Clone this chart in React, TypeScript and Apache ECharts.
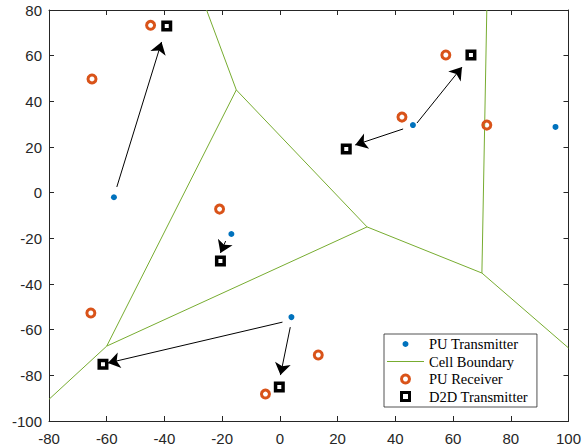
import React, { useEffect, useRef } from "react";
import * as echarts from "echarts";

// ---- data ----
const puTransmitters: [number, number][] = [
  [-57.5, -2],
  [-16.8, -18.1],
  [4.0, -54.5],
  [46.1, 29.6],
  [95.5, 28.8],
];

const puReceivers: [number, number][] = [
  [-44.8, 73.3],
  [-65.1, 49.8],
  [-20.9, -7.2],
  [-65.5, -52.7],
  [-5.0, -88.2],
  [13.3, -71.1],
  [42.3, 33.1],
  [57.5, 60.3],
  [71.7, 29.6],
];

const d2dTransmitters: [number, number][] = [
  [-39.2, 73.0],
  [-20.6, -29.9],
  [-61.3, -75.1],
  [-0.2, -85.1],
  [23.0, 19.1],
  [66.2, 60.3],
];

// arrows: start -> end
const arrowStarts: [number, number][] = [
  [-56.5, 2.5],
  [-18.8, -21.2],
  [0.9, -56.7],
  [3.6, -58.9],
  [42.7, 27.9],
  [47.5, 30.5],
];
const arrowEnds: [number, number][] = [
  [-41.0, 66.0],
  [-20.6, -26.4],
  [-59.6, -74.6],
  [0.2, -79.9],
  [26.1, 20.9],
  [63.1, 55.0],
];

// Voronoi cell boundary segments
const boundaryStarts: [number, number][] = [
  [-25.4, 80],
  [-15.1, 45],
  [-15.1, 45],
  [-60, -67.2],
  [-60, -67.2],
  [30.2, -15],
  [70, -35.2],
  [70, -35.2],
];
const boundaryEnds: [number, number][] = [
  [-15.1, 45],
  [-60, -67.2],
  [30.2, -15],
  [30.2, -15],
  [-80, -90.5],
  [70, -35.2],
  [71.7, 80],
  [100, -68],
];

const xTicks = { min: -80, max: 100, interval: 20 };
const yTicks = { min: -100, max: 80, interval: 20 };

const AXIS_COLOR = "#262626";
const BLUE = "#0072BD";
const ORANGE = "#D95319";
const GREEN = "#77AC30";

function makeAxis(kind: "x" | "y", position: string, showLabel: boolean) {
  const t = kind === "x" ? xTicks : yTicks;
  return {
    type: "value",
    position,
    min: t.min,
    max: t.max,
    interval: t.interval,
    axisLine: { show: true, onZero: false, lineStyle: { color: AXIS_COLOR, width: 1 } },
    axisTick: { show: true, inside: true, length: 5, lineStyle: { color: AXIS_COLOR, width: 1 } },
    axisLabel: {
      show: showLabel,
      color: AXIS_COLOR,
      fontSize: 15,
      fontFamily: "Liberation Sans",
      margin: kind === "x" ? 10 : 7,
    },
    splitLine: { show: false },
  };
}

export default function App() {
  const ref = useRef<HTMLDivElement>(null);

  useEffect(() => {
    if (!ref.current) return;
    const chart = echarts.init(ref.current, undefined, { renderer: "svg" });
    const option = {
      animation: false,
      backgroundColor: "#ffffff",
      grid: { left: 49, right: 14, top: 10, bottom: 25, containLabel: false },
      xAxis: [makeAxis("x", "bottom", true), makeAxis("x", "top", false)],
      yAxis: [makeAxis("y", "left", true), makeAxis("y", "right", false)],
      legend: {
        orient: "vertical",
        left: 384,
        top: 334,
        padding: [2.5, 9, 3, 3],
        itemWidth: 37,
        itemHeight: 8,
        itemGap: 2.5,
        borderColor: AXIS_COLOR,
        borderWidth: 0.8,
        backgroundColor: "#ffffff",
        selectedMode: false,
        textStyle: { fontFamily: "Liberation Serif", fontSize: 14.5, color: "#000", lineHeight: 14 },
        data: [
          {
            name: "PU Transmitter",
            icon: "circle",
            itemStyle: { color: BLUE, borderColor: "#ffffff", borderWidth: 2, opacity: 1 },
          },
          {
            name: "Cell Boundary",
            icon: "path://M0,0H37V1H0Z",
            itemStyle: { color: GREEN, borderWidth: 0, opacity: 1 },
          },
          {
            name: "PU Receiver",
            icon: "circle",
            itemStyle: { color: "rgba(0,0,0,0)", borderColor: ORANGE, borderWidth: 3, opacity: 1 },
          },
          {
            name: "D2D Transmitter",
            icon: "path://M0,0H8V8H0Z",
            itemStyle: { color: "#ffffff", borderColor: "#000", borderWidth: 3, opacity: 1 },
          },
        ],
      },
      series: [
        {
          name: "PU Transmitter",
          type: "scatter",
          xAxisIndex: 0,
          yAxisIndex: 0,
          symbol: "circle",
          symbolSize: 6,
          itemStyle: { color: BLUE, opacity: 1 },
          data: puTransmitters,
          z: 2,
        },
        {
          name: "Cell Boundary",
          type: "lines",
          coordinateSystem: "cartesian2d",
          xAxisIndex: 0,
          yAxisIndex: 0,
          symbol: ["none", "none"],
          lineStyle: { color: GREEN, width: 1, opacity: 1 },
          data: boundaryStarts.map((s, i) => ({ coords: [s, boundaryEnds[i]] })),
          z: 3,
        },
        {
          name: "PU Receiver",
          type: "scatter",
          xAxisIndex: 0,
          yAxisIndex: 0,
          symbol: "circle",
          symbolSize: 8,
          itemStyle: { color: "rgba(0,0,0,0)", borderColor: ORANGE, borderWidth: 3, opacity: 1 },
          data: puReceivers,
          z: 4,
        },
        {
          name: "D2D Transmitter",
          type: "scatter",
          xAxisIndex: 0,
          yAxisIndex: 0,
          symbol: "rect",
          symbolSize: 7.5,
          itemStyle: { color: "#ffffff", borderColor: "#000000", borderWidth: 3.5, opacity: 1 },
          data: d2dTransmitters,
          z: 5,
        },
        {
          name: "Link",
          type: "lines",
          coordinateSystem: "cartesian2d",
          xAxisIndex: 0,
          yAxisIndex: 0,
          symbol: ["none", "arrow"],
          symbolSize: 12,
          lineStyle: { color: "#000000", width: 1, opacity: 1 },
          data: arrowStarts.map((s, i) => ({ coords: [s, arrowEnds[i]] })),
          z: 6,
        },
      ],
    };
    chart.setOption(option as any);
    return () => {
      chart.dispose();
    };
  }, []);

  return (
    <div
      ref={ref}
      style={{ position: "fixed", left: 0, top: 0, width: 584, height: 446, background: "#fff" }}
    />
  );
}
